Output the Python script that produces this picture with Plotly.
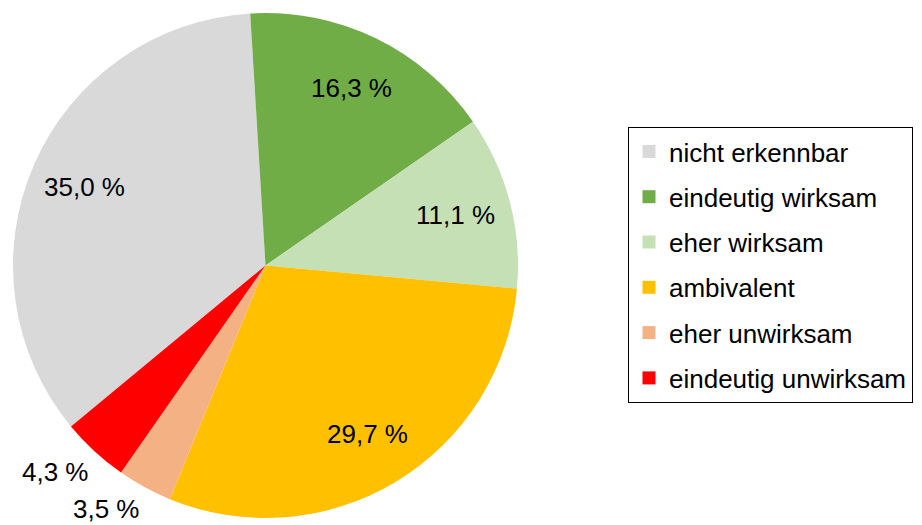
import math
import plotly.graph_objs as go

###
# Daten
labels = ["nicht erkennbar", "eindeutig wirksam", "eher wirksam",
          "ambivalent", "eher unwirksam", "eindeutig unwirksam"]
values = [35.0, 16.3, 11.1, 29.7, 3.5, 4.3]
colors = ["#D9D9D9", "#70AD47", "#C5E0B4", "#FFC000", "#F4B183", "#FF0000"]
outside = [False, False, False, False, True, True]

W, H = 922, 525
OFF = 8                           # default body margin of the html page
CX, CY, R = 265.5 - OFF, 265.5 - OFF, 252.5   # pie centre / radius in px
START = 230.4                     # first slice start, deg clockwise from 12 o'clock

###
# label position from the slice mid angle
def label_pos(mid_deg, frac):
  a = math.radians(mid_deg)
  x = CX + R * frac * math.sin(a)
  y = CY - R * frac * math.cos(a)
  return x / W, 1 - y / H, math.sin(a), math.cos(a)

def main():
  fmt = ["{:.1f} %".format(v).replace(".", ",") for v in values]

  fig = go.Figure()
  fig.add_trace(go.Pie(
    labels=labels,
    values=values,
    sort=False,
    direction="clockwise",
    rotation=START,
    marker=dict(colors=colors, line=dict(width=0)),
    textinfo="none",
    hoverinfo="label+percent",
    showlegend=False,
    domain=dict(x=[(CX - R) / W, (CX + R) / W], y=[1 - (CY + R) / H, 1 - (CY - R) / H]),
  ))

  # legend entries (own groups, so the gap between them can be set)
  for lab, col in zip(labels, colors):
    fig.add_trace(go.Scatter(
      x=[None], y=[None], mode="markers", name=lab, legendgroup=lab,
      marker=dict(symbol="square", size=13, color=col),
    ))

  total = sum(values)
  angle = START
  annos = []
  for v, t, out in zip(values, fmt, outside):
    span = v / total * 360
    mid = angle + span / 2
    if out:
      # outside labels: the corner nearest the pie sits just outside the rim
      x, y, s, c = label_pos(mid, 1.02)
      xa = "right" if s < 0 else "left"
      ya = "top" if c < 0 else "bottom"
    else:
      x, y, s, c = label_pos(mid, 0.78)
      xa, ya = "center", "middle"
    annos.append(dict(x=x, y=y, xref="paper", yref="paper", text=t, showarrow=False,
                      xanchor=xa, yanchor=ya,
                      font=dict(size=26, color="black")))
    angle += span

  fig.update_layout(
    width=W, height=H,
    margin=dict(l=0, r=0, t=0, b=0),
    paper_bgcolor="white",
    plot_bgcolor="white",
    font=dict(family="Liberation Sans, Arial, sans-serif", size=26, color="black"),
    xaxis=dict(visible=False),
    yaxis=dict(visible=False),
    annotations=annos,
    legend=dict(x=(628 - OFF) / W, y=1 - (127 - OFF) / H, xanchor="left", yanchor="top",
                bordercolor="black", borderwidth=1, bgcolor="white",
                tracegroupgap=8.5, font=dict(size=26)),
  )
  fig.write_html("out.html")

###
if __name__ == '__main__':
  main()
